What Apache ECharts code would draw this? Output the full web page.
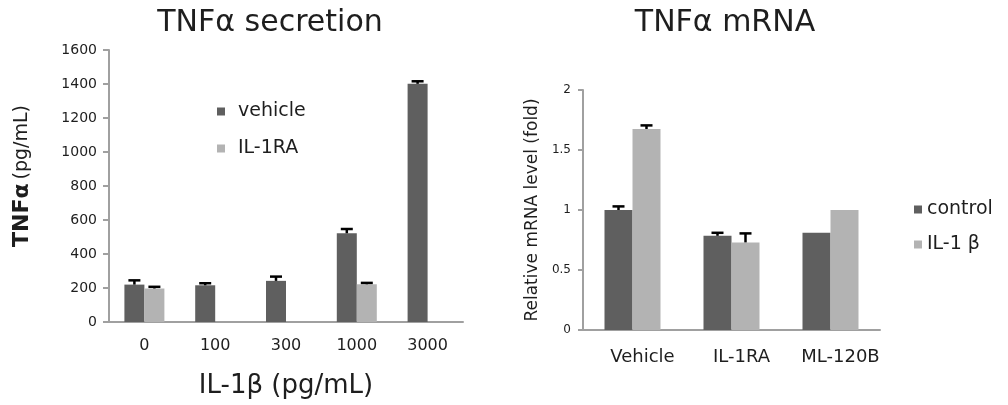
<!DOCTYPE html>
<html><head><meta charset="utf-8">
<script src="https://cdn.jsdelivr.net/npm/echarts@6/dist/echarts.min.js"></script>
<style>html,body{margin:0;padding:0;background:#fff}#c{width:1008px;height:405px}</style>
</head><body><div id="c"></div>
<script>
// Left panel: TNFα secretion
const doses = ['0', '100', '300', '1000', '3000'];
const vehicleVals = [220, 216, 242, 522, 1401];
const vehicleErr = [25, 12, 25, 25, 15];
const il1raVals = [197, null, null, 222, null];
const il1raErr = [10, null, null, 8, null];
const leftTicks = [0, 1600, 200];

// Right panel: TNFα mRNA
const treatments = ['Vehicle', 'IL-1RA', 'ML-120B'];
const controlVals = [1.0, 0.785, 0.81];
const controlErr = [0.03, 0.025, null];
const il1bVals = [1.675, 0.73, 1.0];
const il1bErr = [0.03, 0.075, null];
const rightTicks = [0, 2, 0.5];

const DARK = '#5f5f5f', LIGHT = '#b3b3b3', AXIS = '#a0a0a0', TXT = '#1e1e1e';
const FONT = '"DejaVu Sans", "Open Sans", sans-serif';

function errData(vals, errs) {
  const out = [];
  vals.forEach((v, i) => { if (v != null && errs[i] != null) out.push([i, v, v + errs[i]]); });
  return out;
}
function errSeries(xi, yi, vals, errs, offset, cap) {
  return {
    type: 'custom', xAxisIndex: xi, yAxisIndex: yi, z: 5, silent: true,
    data: errData(vals, errs), encode: { x: 0, y: [1, 2] },
    renderItem: function (params, api) {
      const base = api.coord([api.value(0), api.value(1)]);
      const top = api.coord([api.value(0), api.value(2)]);
      const x = base[0] + offset;
      const style = { stroke: '#000', lineWidth: 2.5 };
      return { type: 'group', children: [
        { type: 'line', shape: { x1: x, y1: base[1], x2: x, y2: top[1] }, style },
        { type: 'line', shape: { x1: x - cap, y1: top[1], x2: x + cap, y2: top[1] }, style }
      ]};
    }
  };
}

const chart = echarts.init(document.getElementById('c'));
chart.setOption({
  animation: false,
  textStyle: { fontFamily: FONT },
  title: [
    { text: 'TNFα secretion', left: 265, top: 3, textAlign: 'center',
      textStyle: { fontSize: 30, fontWeight: 'normal', color: TXT, fontFamily: FONT } },
    { text: 'TNFα mRNA', left: 720, top: 3, textAlign: 'center',
      textStyle: { fontSize: 30, fontWeight: 'normal', color: TXT, fontFamily: FONT } }
  ],
  legend: [
    { data: ['vehicle', 'IL-1RA'], orient: 'vertical', left: 212, top: 97, itemGap: 18,
      icon: 'rect', itemWidth: 8, itemHeight: 8,
      textStyle: { fontSize: 19, color: TXT, fontFamily: FONT, padding: [0, 0, 0, 8] } },
    { data: ['control', 'IL-1 β'], orient: 'vertical', left: 909, top: 195, itemGap: 16,
      icon: 'rect', itemWidth: 8, itemHeight: 8,
      textStyle: { fontSize: 19, color: TXT, fontFamily: FONT } }
  ],
  grid: [
    { left: 109, right: 545, top: 50, bottom: 83 },
    { left: 583, right: 128, top: 90, bottom: 75 }
  ],
  xAxis: [
    { type: 'category', gridIndex: 0, data: doses,
      name: 'IL-1β (pg/mL)', nameLocation: 'middle', nameGap: 51,
      nameTextStyle: { fontSize: 26, color: TXT, fontFamily: FONT },
      axisLine: { lineStyle: { color: AXIS, width: 2 } },
      axisTick: { length: 6, lineStyle: { color: AXIS, width: 2 } },
      axisLabel: { fontSize: 16, color: TXT, margin: 16, interval: 0 } },
    { type: 'category', gridIndex: 1, data: treatments,
      axisLine: { lineStyle: { color: AXIS, width: 2 } },
      axisTick: { length: 6, lineStyle: { color: AXIS, width: 2 } },
      axisLabel: { fontSize: 18, color: TXT, margin: 18, interval: 0, hideOverlap: false,
        padding: [0, 0, 0, 20] } }
  ],
  yAxis: [
    { type: 'value', gridIndex: 0, min: leftTicks[0], max: leftTicks[1], interval: leftTicks[2],
      name: '{a|TNFα} {b|(pg/mL)}', nameLocation: 'middle', nameGap: 76, nameRotate: 90,
      nameTextStyle: { color: TXT, padding: [0, 0, 0, 20], rich: {
        a: { fontSize: 22, fontWeight: 'bold', color: TXT, fontFamily: FONT },
        b: { fontSize: 19, color: TXT, fontFamily: FONT } } },
      axisLine: { show: true, lineStyle: { color: AXIS, width: 2 } },
      axisTick: { show: true, length: 6, lineStyle: { color: AXIS, width: 2 } },
      splitLine: { show: false },
      axisLabel: { fontSize: 14, color: TXT, margin: 12, formatter: v => String(v) } },
    { type: 'value', gridIndex: 1, min: rightTicks[0], max: rightTicks[1], interval: rightTicks[2],
      name: 'Relative mRNA level (fold)', nameLocation: 'middle', nameGap: 42, nameRotate: 90,
      nameTextStyle: { fontSize: 17, color: TXT, fontFamily: FONT },
      axisLine: { show: true, lineStyle: { color: AXIS, width: 2 } },
      axisTick: { show: true, length: 5, lineStyle: { color: AXIS, width: 2 } },
      splitLine: { show: false },
      axisLabel: { fontSize: 12, color: TXT, margin: 12, formatter: v => String(v) } }
  ],
  series: [
    { name: 'vehicle', type: 'bar', xAxisIndex: 0, yAxisIndex: 0, data: vehicleVals,
      barWidth: 20, barGap: '0%', itemStyle: { color: DARK } },
    { name: 'IL-1RA', type: 'bar', xAxisIndex: 0, yAxisIndex: 0, data: il1raVals,
      barWidth: 20, barGap: '0%', itemStyle: { color: LIGHT } },
    { name: 'control', type: 'bar', xAxisIndex: 1, yAxisIndex: 1, data: controlVals,
      barWidth: 28, barGap: '0%', itemStyle: { color: DARK } },
    { name: 'IL-1 β', type: 'bar', xAxisIndex: 1, yAxisIndex: 1, data: il1bVals,
      barWidth: 28, barGap: '0%', itemStyle: { color: LIGHT } },
    errSeries(0, 0, vehicleVals, vehicleErr, -10, 6),
    errSeries(0, 0, il1raVals, il1raErr, 10, 6),
    errSeries(1, 1, controlVals, controlErr, -14, 6),
    errSeries(1, 1, il1bVals, il1bErr, 14, 6)
  ]
});
</script></body></html>
